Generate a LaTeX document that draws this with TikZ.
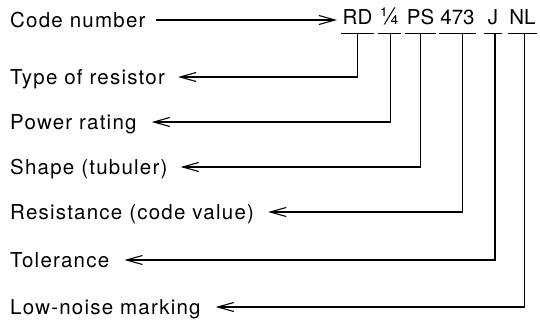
\documentclass[tikz,border=0pt]{standalone}
\usepackage{fontspec}
\setmainfont{TeX Gyre Heros}[LetterSpace=6]
\newfontfamily\codefont{TeX Gyre Heros}
\usetikzlibrary{arrows.meta}
\usetikzlibrary{positioning}

\begin{document}
\begin{tikzpicture}[x=1pt,y=-1pt,
  every node/.style={font=\fontsize{20.5}{25}\selectfont},
  lbl/.style={anchor=west,inner sep=0pt,text height=14.7pt,text depth=0pt},
  codepart/.style={anchor=base,inner xsep=1.5pt,inner ysep=0pt,text depth=8pt,
    font=\fontsize{20.5}{25}\codefont},
  lead/.style={line width=1.1pt,-{Straight Barb[length=16pt,width=9pt]}},
  uline/.style={line width=1.3pt}]
\useasboundingbox (0,0) rectangle (540,320);

% labels on the left
\node[lbl] (code) at (10,20) {Code number};
\node[lbl] (type) at (10,77) {Type of resistor};
\node[lbl] (power) at (10,122) {Power rating};
\node[lbl] (shape) at (10,167) {Shape (tubuler)};
\node[lbl] (resist) at (10,212) {Resistance (code value)};
\node[lbl] (toler) at (10,260) {Tolerance};
\node[lbl] (noise) at (10,307) {Low-noise marking};

% parts of the code
\node[codepart] (rd) at (357.5,25) {RD};
\node[codepart] (watt) at (389.5,25) {\scalebox{1.15}{¼}};
\node[codepart] (form) at (420.5,25) {PS};
\node[codepart] (val) at (457.5,25) {473};
\node[codepart,inner xsep=4pt] (tol) at (493,25) {J};
\node[codepart] (nl) at (522.5,25) {NL};

\foreach \n in {rd,watt,form,val,tol,nl}
  \draw[uline] (\n.south west) -- (\n.south east);

% leaders
\draw[lead,shorten <=10pt,shorten >=4pt] (code.east) -- (code.east -| rd.west);
\draw[lead] (rd.south) |- ([xshift=13pt]type.east);
\draw[lead] ([xshift=1pt]watt.south) |- ([xshift=15pt]power.east);
\draw[lead] (form.south) |- ([xshift=13pt]shape.east);
\draw[lead] ([xshift=5pt]val.south) |- ([xshift=14pt]resist.east);
\draw[lead] ([xshift=2pt]tol.south) |- ([xshift=15pt]toler.east);
\draw[lead] ([xshift=2pt]nl.south) |- ([xshift=15pt]noise.east);

\end{tikzpicture}
\end{document}
